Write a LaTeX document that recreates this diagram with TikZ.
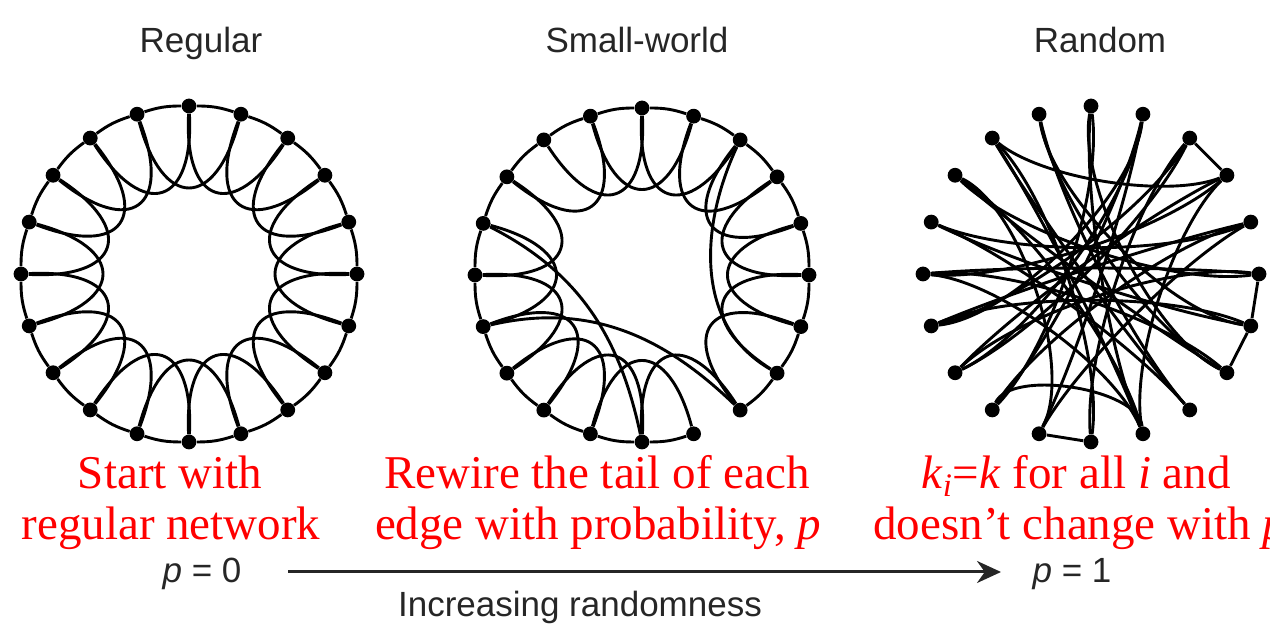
\documentclass[tikz,border=0pt]{standalone}
\usepackage{fontspec}
\setmainfont{Liberation Serif}
\newfontfamily\sansfont{Liberation Sans}
\usetikzlibrary{arrows.meta}
\definecolor{captiongray}{HTML}{262626}
\definecolor{notered}{HTML}{FF0000}
\begin{document}
\begin{tikzpicture}[x=0.5pt,y=0.5pt,
  dot/.style={circle,fill=black,inner sep=0pt,minimum size=7.4pt},
  edge/.style={line width=1.45pt,black},
  title/.style={font=\sansfont\fontsize{17.5}{21}\selectfont,text=captiongray,anchor=base,inner sep=0pt},
  note/.style={font=\fontsize{23.5}{28}\selectfont,text=notered,anchor=base,inner sep=0pt},
  arrowline/.style={line width=1.5pt,captiongray,-{Stealth[length=12pt,width=11pt]}}
]
\useasboundingbox (0,0) rectangle (1270,631);
% ---------- nodes of the three rings ----------
\foreach \k in {0,...,19}{
  \pgfmathsetmacro\th{90-18*\k}
  \node[dot] (L\k) at ([shift={(\th:168)}]189,357) {};
  \node[dot] (M\k) at ([shift={(\th:167)}]642,356) {};
  \node[dot] (R\k) at ([shift={(\th:168)}]1091,357) {};
}
% ---------- regular ring ----------
\foreach \k in {0,...,19}{
  \pgfmathtruncatemacro\a{mod(\k+1,20)}
  \pgfmathtruncatemacro\b{mod(\k+2,20)}
  \pgfmathsetmacro\oa{270-18*\k-3}
  \pgfmathsetmacro\ia{270-18*\k-36+3}
  \draw[edge] (L\k) to[bend left=9] (L\a);
  \draw[edge] (L\k) to[out=\oa,in=\ia,looseness=2.35] (L\b);
}
% ---------- small-world ring ----------
\foreach \k in {0,...,19}{
  \pgfmathtruncatemacro\a{mod(\k+1,20)}
  \pgfmathtruncatemacro\b{mod(\k+2,20)}
  \pgfmathsetmacro\oa{270-18*\k-3}
  \pgfmathsetmacro\ia{270-18*\k-36+3}
  \ifnum\k=8 \else \draw[edge] (M\k) to[bend left=9] (M\a);\fi
  \ifnum\k=7 \else \ifnum\k=16 \else
    \draw[edge] (M\k) to[out=\oa,in=\ia,looseness=2.35] (M\b);
  \fi\fi
}
\draw[edge] (M2) to[out=245,in=150,looseness=1] (M7);
\draw[edge] (M14) to[out=13,in=136,looseness=1] (M8);
\draw[edge] (M16) to[out=-27,in=102,looseness=1] (M10);
% ---------- random ring ----------
\foreach \i/\j in {2/3,5/6,6/7,10/11}{
  \draw[edge] (R\i) -- (R\j);
}
\foreach \i/\j/\bd in {0/12/8,0/7/-10,19/7/-8,19/8/-5,19/6/-10,1/13/10,1/12/5,1/14/12,1/11/8,
                   18/3/15,18/8/-5,18/9/-3,17/5/-8,17/7/-5,17/9/3,2/14/5,2/13/10,3/15/5,
                   16/4/-5,16/6/-8,15/5/5,15/9/-5,4/14/-5,4/12/-3,14/6/5,13/5/8,13/3/10,
                   12/9/12,11/4/-12,11/17/-10,10/2/5,10/18/-8,9/3/-8,8/16/5,7/15/-5,0/9/-5}{
  \pgfmathsetmacro\oa{270-18*\i+\bd}
  \pgfmathsetmacro\ia{270-18*\j-\bd}
  \draw[edge] (R\i) to[out=\oa,in=\ia,looseness=0.65] (R\j);
}
% ---------- titles ----------
\node[title] (tReg) at (201,578) {Regular};
\node[title] (tSW) at (637,578) {Small-world};
\node[title] (tRnd) at (1100,578) {Random};
% ---------- red notes ----------
\node[note] (n1a) at (170,142) {Start with};
\node[note] (n1b) at (171,91) {regular network};
\node[note] (n2a) at (597,142) {Rewire the tail of each};
\node[note] (n2b) at (598,91) {edge with probability, \textit{p}};
\node[note] (n3a) at (1076,142) {\textit{k}\textsubscript{\textit{i}}=\textit{k} for all \textit{i} and};
\node[note,anchor=base west] (n3b) at (873,91) {doesn’t change with \textit{p}};
% ---------- axis ----------
\node[title] (p0) at (202,48) {\textit{p} = 0};
\node[title] (p1) at (1072,48) {\textit{p} = 1};
\coordinate (aStart) at (288,59);
\coordinate (aEnd) at (1001,59);
\draw[arrowline] (aStart) -- (aEnd);
\node[title] (incr) at (580,14) {Increasing randomness};
\end{tikzpicture}
\end{document}
